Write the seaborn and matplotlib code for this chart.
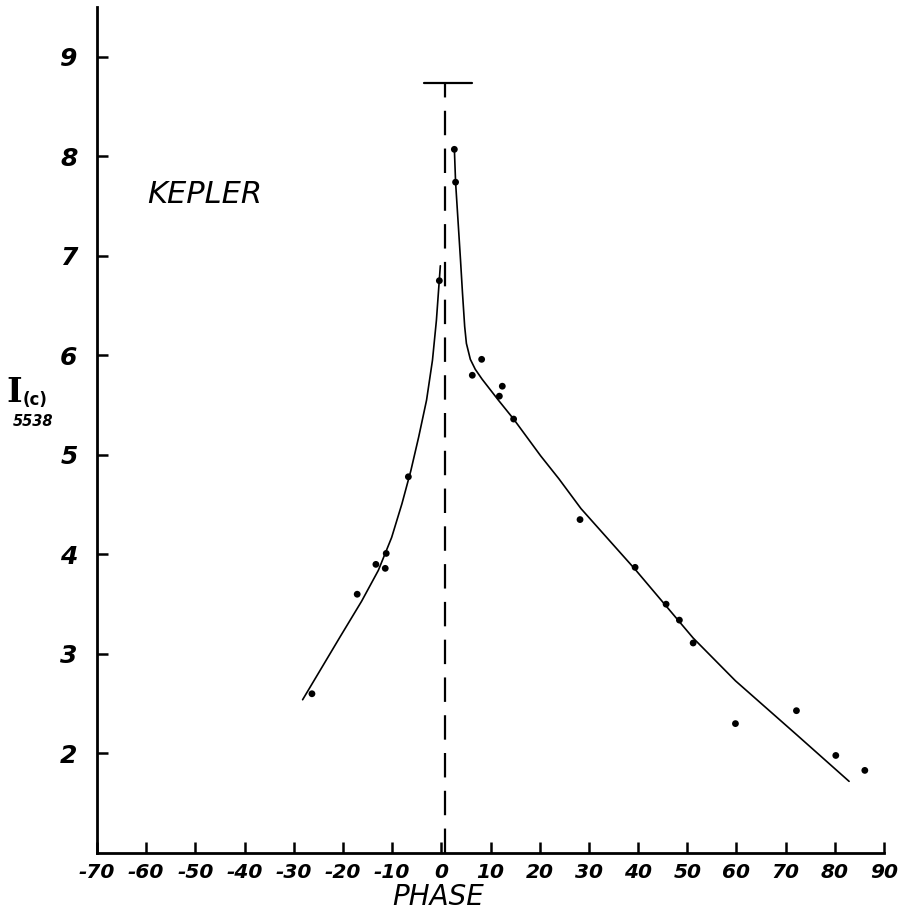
import matplotlib
matplotlib.use("Agg")
import matplotlib.pyplot as plt
import seaborn as sns
import pandas as pd

# Observed intensities I(c) at 5538 A versus phase (days)
obs_phase = [-26.3, -17.1, -13.3, -11.4, -11.2, -6.7, -0.4,
             2.65, 2.9, 6.3, 8.2, 11.8, 12.4, 14.7, 28.2, 39.4,
             45.7, 48.4, 51.2, 59.8, 72.2, 80.2, 86.1]
obs_intensity = [2.60, 3.60, 3.90, 3.86, 4.01, 4.78, 6.75,
                 8.07, 7.74, 5.80, 5.96, 5.59, 5.69, 5.36, 4.35, 3.87,
                 3.50, 3.34, 3.11, 2.30, 2.43, 1.98, 1.83]

# Hand-drawn mean curve, rising branch (before maximum)
rise_phase = [-28.2, -24.7, -20.6, -16.2, -12.8, -10.1, -8.0, -6.2,
              -4.6, -3.0, -1.8, -1.0, -0.2]
rise_intensity = [2.54, 2.83, 3.17, 3.53, 3.84, 4.17, 4.51, 4.84,
                  5.18, 5.55, 5.95, 6.35, 6.90]

# Hand-drawn mean curve, declining branch (after maximum)
fall_phase = [2.65, 2.9, 3.9, 4.3, 4.75, 5.1, 5.9, 6.9, 8.3, 11.6, 14.7, 20.2, 23.9,
              28.4, 39.4, 51.2, 59.8, 72.2, 82.9]
fall_intensity = [8.08, 7.74, 6.96, 6.63, 6.29, 6.12, 5.96, 5.86, 5.76, 5.55, 5.36, 4.99,
                  4.76, 4.46, 3.85, 3.16, 2.73, 2.19, 1.72]

# Epoch of maximum and its estimated peak level
max_phase = 0.7
max_level = 8.74
cap_left, cap_right = -3.5, 6.3

x_ticks = list(range(-70, 91, 10))
x_tick_labels = [str(t) for t in x_ticks]
y_ticks = [2, 3, 4, 5, 6, 7, 8, 9]
y_tick_labels = [str(t) for t in y_ticks]

sns.set_theme(style="ticks")
plt.rcParams["font.family"] = ["DejaVu Sans"]
plt.rcParams["text.color"] = "black"
plt.rcParams["axes.labelcolor"] = "black"
plt.rcParams["xtick.color"] = "black"
plt.rcParams["ytick.color"] = "black"

W, H = 898, 911
fig = plt.figure(figsize=(W / 100, H / 100), dpi=100)
ax = fig.add_axes([97 / W, (H - 853) / H, (884 - 97) / W, (853 - 7) / H])

obs = pd.DataFrame({"phase": obs_phase, "intensity": obs_intensity})
rise = pd.DataFrame({"phase": rise_phase, "intensity": rise_intensity})
fall = pd.DataFrame({"phase": fall_phase, "intensity": fall_intensity})

sns.lineplot(data=rise, x="phase", y="intensity", sort=False, estimator=None,
             color="black", linewidth=1.2, ax=ax)
sns.lineplot(data=fall, x="phase", y="intensity", sort=False, estimator=None,
             color="black", linewidth=1.2, ax=ax)
sns.scatterplot(data=obs, x="phase", y="intensity", color="black", s=24,
                edgecolor="none", ax=ax, zorder=3)

# Epoch of maximum: dashed vertical with a cap at the peak level
ax.plot([max_phase, max_phase], [1.0, max_level], color="black", linewidth=1.6,
        dashes=(11, 6))
ax.plot([cap_left, cap_right], [max_level, max_level], color="black", linewidth=1.6)

ax.set_xlim(-70, 90)
ax.set_ylim(1.0, 9.5)
ax.set_xticks(x_ticks)
ax.set_xticklabels(x_tick_labels, fontsize=14.5, fontweight="bold", style="oblique")
ax.set_yticks(y_ticks)
ax.set_yticklabels(y_tick_labels, fontsize=18, fontweight="bold", style="oblique")
ax.tick_params(axis="x", direction="in", length=8, width=1.8, pad=7, colors="black")
ax.tick_params(axis="y", direction="in", length=8, width=1.8, pad=14, colors="black")

sns.despine(ax=ax)
for side in ("left", "bottom"):
    ax.spines[side].set_linewidth(2.0)
    ax.spines[side].set_color("black")

ax.set_xlabel("")
ax.set_ylabel("")

ax.text(-59.8, 7.62, "KEPLER", fontsize=22, style="oblique", color="black",
        ha="left", va="center")

# Axis titles
fig.text(438 / W, 1 - 897 / H, "PHASE", fontsize=20, style="oblique", color="black",
         ha="center", va="center")
fig.text(14 / W, 1 - 392 / H, "I", fontsize=24, family="DejaVu Serif", fontweight="bold",
         color="black", ha="center", va="center")
fig.text(35 / W, 1 - 400 / H, "(c)", fontsize=12, fontweight="bold", color="black",
         ha="center", va="center")
fig.text(33 / W, 1 - 421 / H, "5538", fontsize=10.5, fontweight="bold", style="oblique",
         color="black", ha="center", va="center")

fig.savefig("out.png", dpi=100, facecolor="white")
